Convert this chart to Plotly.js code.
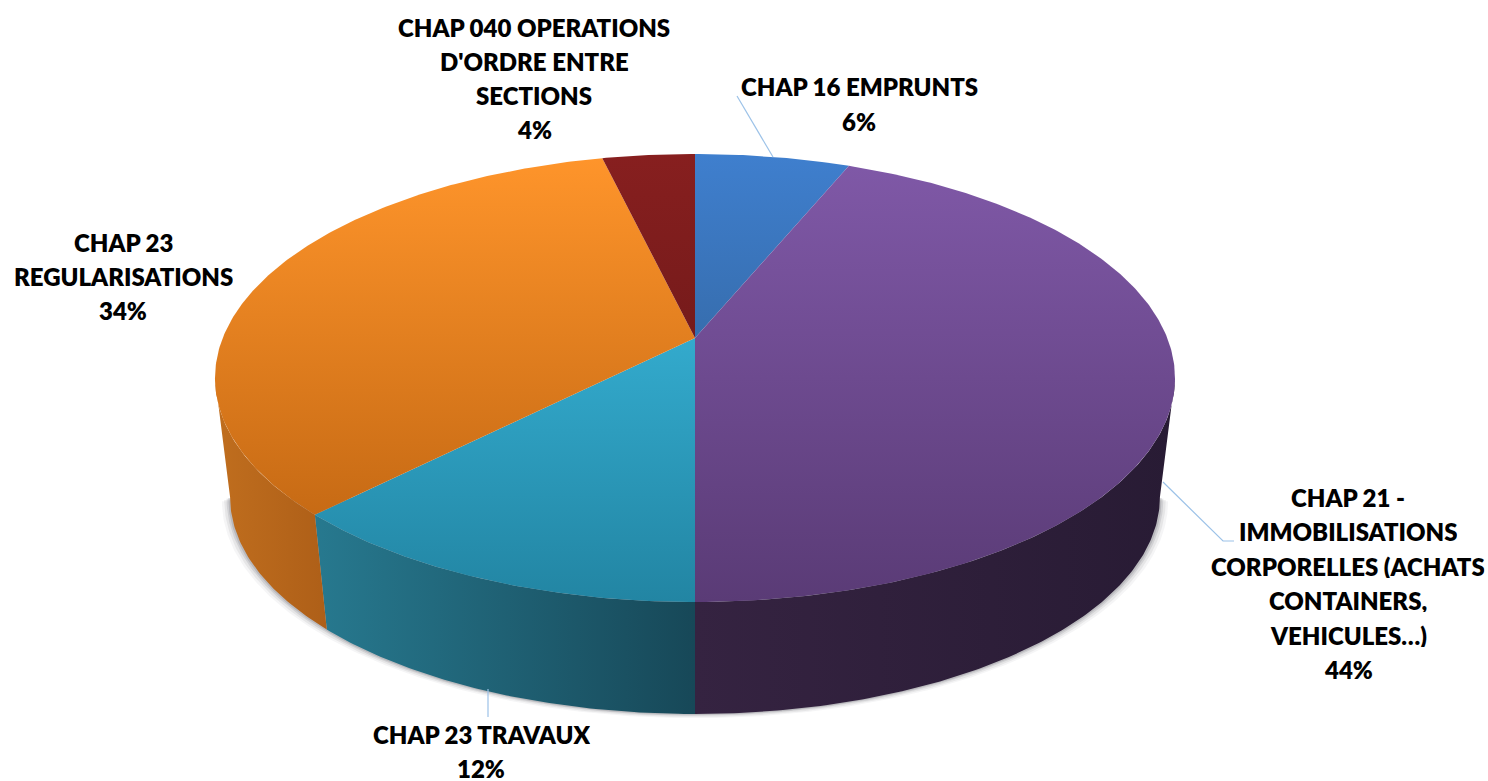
<!DOCTYPE html>
<html>
<head>
<meta charset="utf-8">
<script src="https://cdn.plot.ly/plotly-3.0.1.min.js"></script>
<style>html,body{margin:0;padding:0;background:#fff}</style>
</head>
<body>
<div id="chart" style="width:1488px;height:781px"></div>
<script>
// Data, clockwise from the top of the pie
const categories = ["CHAP 16 EMPRUNTS", "CHAP 21 - IMMOBILISATIONS CORPORELLES (ACHATS CONTAINERS, VEHICULES…)", "CHAP 23 TRAVAUX", "CHAP 23 REGULARISATIONS", "CHAP 040 OPERATIONS D'ORDRE ENTRE SECTIONS"];
const values = [6.2, 43.8, 12.4, 33.9, 3.7];
const topColors = [
  ["#3f7fce", "#2a5480"],
  ["#8059a8", "#5a3b76"],
  ["#3fc4ea", "#2285a3"],
  ["#ff952b", "#b9600f"],
  ["#871f1f", "#5c1414"]
];
const wallColors = [
  ["#2a5480", "#2a5480"],
  ["#352341", "#281b34"],
  ["#27798f", "#174858"],
  ["#c06e1e", "#ae5f18"],
  ["#5c1414", "#5c1414"]
];
const labelLines = [
  ["CHAP 16 EMPRUNTS", "6%"],
  ["CHAP 21 -", "IMMOBILISATIONS", "CORPORELLES (ACHATS", "CONTAINERS,", "VEHICULES…)", "44%"],
  ["CHAP 23 TRAVAUX", "12%"],
  ["CHAP 23", "REGULARISATIONS", "34%"],
  ["CHAP 040 OPERATIONS", "D'ORDRE ENTRE", "SECTIONS", "4%"]
];
const labelX = [859, 1348, 481, 123, 534];
const labelTopY = [86, 497, 734, 242, 27];
const labelStep = [35, 34.4, 34, 34, 34];
const leaderX = [[737, 773], [1163, 1223, 1234], [488, 488], [], []];
const leaderY = [[96, 157], [482, 541, 541], [689, 717], [], []];

// Perspective geometry of the disc
const cx = 695, apexY = 338, farY = 154, nearY = 602, halfW = 480;
const c = (farY + nearY - 2 * apexY) / (nearY - farY);
const b = farY * (1 + c) - apexY;
const k = halfW * Math.sqrt(1 - c * c);
const vanishY = 4168, wallScale = 0.9686;

function rim(theta) {
  const w = 1 + c * Math.cos(theta);
  return [cx + k * Math.sin(theta) / w, (apexY + b * Math.cos(theta)) / w];
}
function lower(p) {
  return [cx + (p[0] - cx) * wallScale, vanishY - (vanishY - p[1]) * wallScale];
}
function arc(a0, a1) {
  const n = Math.max(2, Math.ceil(Math.abs(a1 - a0) / 0.01));
  const pts = [];
  for (let i = 0; i <= n; i++) pts.push(rim(a0 + (a1 - a0) * i / n));
  return pts;
}
const total = values.reduce((s, v) => s + v, 0);
let acc = 0;
const slices = values.map(v => {
  const a0 = acc / total * 2 * Math.PI;
  acc += v;
  return [a0, acc / total * 2 * Math.PI];
});
const frontStart = Math.acos(-c), frontEnd = 2 * Math.PI - frontStart;

const traces = [];
function poly(pts, extra) {
  traces.push(Object.assign({
    type: "scatter", mode: "lines", hoverinfo: "skip", showlegend: false,
    x: pts.map(p => p[0]).concat([pts[0][0]]),
    y: pts.map(p => p[1]).concat([pts[0][1]]),
    fill: "toself", line: {width: 0}
  }, extra));
}

// Soft shadow beneath the wall
[[7, 0.05], [5, 0.08], [3, 0.12], [1.5, 0.16]].forEach(([off, alpha]) => {
  const pts = arc(frontStart, frontEnd).map(p => {
    const q = lower(p);
    return [q[0] + (q[0] - cx) / 240 * off * 0.6, q[1] + off * 0.6];
  });
  poly(pts, {fillcolor: "rgba(60,60,70," + alpha + ")"});
});

// Side walls
slices.forEach(([a0, a1], i) => {
  const s = Math.max(a0, frontStart), e = Math.min(a1, frontEnd);
  if (e <= s) return;
  const t = arc(s, e);
  const pts = t.concat(t.slice().reverse().map(lower));
  const xs = pts.map(p => p[0]);
  poly(pts, {
    name: categories[i],
    fillcolor: wallColors[i][0],
    fillgradient: {
      type: "horizontal",
      start: Math.min(...xs),
      stop: Math.max(...xs),
      colorscale: [[0, wallColors[i][0]], [1, wallColors[i][1]]]
    }
  });
});

// Top faces
slices.forEach(([a0, a1], i) => {
  const pts = [[cx, apexY]].concat(arc(a0, a1));
  poly(pts, {
    name: categories[i],
    fillcolor: topColors[i][0],
    fillgradient: {
      type: "vertical", start: farY, stop: nearY,
      colorscale: [[0, topColors[i][0]], [1, topColors[i][1]]]
    }
  });
});

// Leader lines
leaderX.forEach((xs, i) => {
  if (!xs.length) return;
  traces.push({type: "scatter", mode: "lines", hoverinfo: "skip", showlegend: false,
    x: xs, y: leaderY[i], line: {color: "#9cc2e8", width: 1.2}});
});

// Labels, one annotation per line for exact leading
const annotations = [];
labelLines.forEach((lines, i) => {
  lines.forEach((t, j) => {
    annotations.push({
      xref: "x", yref: "y", x: labelX[i], y: labelTopY[i] + j * labelStep[i],
      text: t, showarrow: false, xanchor: "center", yanchor: "middle",
      height: 24, borderpad: 0,
      font: {family: "Lato, 'Open Sans', sans-serif", size: 24, weight: 800, color: "#000"}
    });
  });
});

Plotly.newPlot("chart", traces, {
  width: 1488, height: 781,
  margin: {l: 0, r: 0, t: 0, b: 0},
  paper_bgcolor: "#fff", plot_bgcolor: "#fff",
  showlegend: false,
  xaxis: {range: [0, 1488], visible: false, fixedrange: true},
  yaxis: {range: [781, 0], visible: false, fixedrange: true},
  annotations: annotations
}, {displayModeBar: false, staticPlot: true});
</script>
</body>
</html>
